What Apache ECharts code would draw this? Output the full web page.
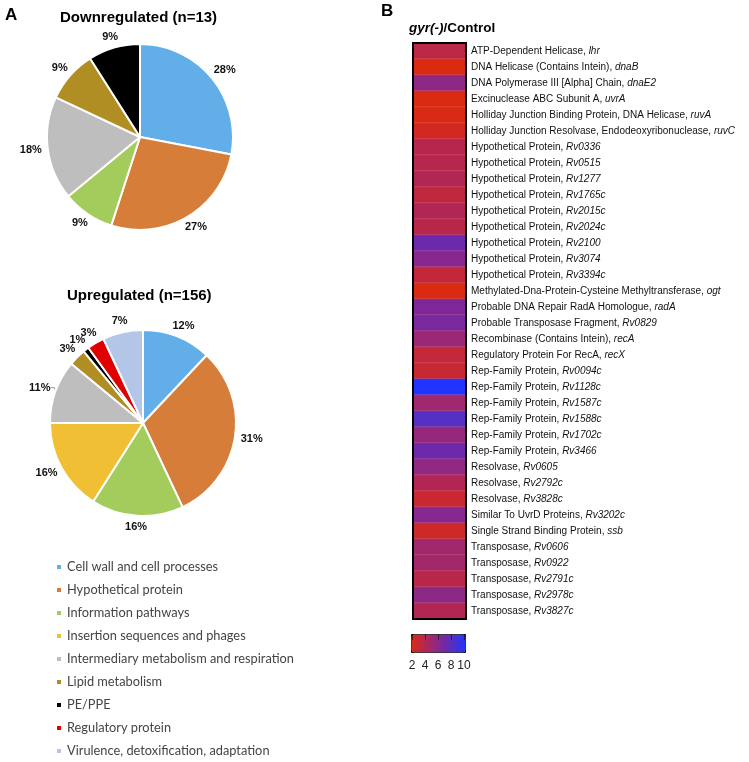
<!DOCTYPE html>
<html>
<head>
<meta charset="utf-8">
<script src="https://cdn.jsdelivr.net/npm/echarts@6/dist/echarts.min.js"></script>
<style>html,body{margin:0;padding:0;background:#fff;}#c{width:749px;height:762px;}</style>
</head>
<body>
<div id="c"></div>
<script>
// ---------- Data ----------
const categories = [
  'Cell wall and cell processes',
  'Hypothetical protein',
  'Information pathways',
  'Insertion sequences and phages',
  'Intermediary metabolism and respiration',
  'Lipid metabolism',
  'PE/PPE',
  'Regulatory protein',
  'Virulence, detoxification, adaptation'
];
const categoryColors = ['#62AEE9','#D67D3A','#A3CC5C','#F0BF33','#BEBEBE','#B08E24','#000000','#E00000','#B4C6E7'];
const downValues = [28, 27, 9, 0, 18, 9, 9, 0, 0];
const upValues   = [12, 31, 16, 16, 11, 3, 1, 3, 7];

const geneDescriptions = [
  'ATP-Dependent Helicase','DNA Helicase (Contains Intein)','DNA Polymerase III [Alpha] Chain',
  'Excinuclease ABC Subunit A','Holliday Junction Binding Protein, DNA Helicase',
  'Holliday Junction Resolvase, Endodeoxyribonuclease','Hypothetical Protein','Hypothetical Protein',
  'Hypothetical Protein','Hypothetical Protein','Hypothetical Protein','Hypothetical Protein',
  'Hypothetical Protein','Hypothetical Protein','Hypothetical Protein',
  'Methylated-Dna-Protein-Cysteine Methyltransferase','Probable DNA Repair RadA Homologue',
  'Probable Transposase Fragment','Recombinase (Contains Intein)','Regulatory Protein For RecA',
  'Rep-Family Protein','Rep-Family Protein','Rep-Family Protein','Rep-Family Protein',
  'Rep-Family Protein','Rep-Family Protein','Resolvase','Resolvase','Resolvase',
  'Similar To UvrD Proteins','Single Strand Binding Protein','Transposase','Transposase',
  'Transposase','Transposase','Transposase'
];
const geneIds = [
  'lhr','dnaB','dnaE2','uvrA','ruvA','ruvC','Rv0336','Rv0515','Rv1277','Rv1765c','Rv2015c',
  'Rv2024c','Rv2100','Rv3074','Rv3394c','ogt','radA','Rv0829','recA','recX','Rv0094c',
  'Rv1128c','Rv1587c','Rv1588c','Rv1702c','Rv3466','Rv0605','Rv2792c','Rv3828c','Rv3202c',
  'ssb','Rv0606','Rv0922','Rv2791c','Rv2978c','Rv3827c'
];
const foldChange = [
  3.6, 2.0, 5.7, 2.0, 2.1, 2.5, 3.9, 3.9, 4.1, 3.4, 4.1, 3.8, 7.1, 6.1, 3.3, 2.0, 6.4, 6.6,
  5.2, 3.2, 3.0, 10.0, 4.9, 8.0, 5.4, 7.1, 5.6, 4.1, 2.9, 6.1, 2.7, 4.9, 4.8, 3.8, 5.8, 4.1
];
const heatColumn = ['gyr(-)/Control'];
const scaleTicks = [2, 4, 6, 8, 10];

// ---------- Chart ----------
const FF = 'Liberation Sans, Arial, sans-serif';
const chart = echarts.init(document.getElementById('c'), null, {renderer: 'canvas'});

function pieData(vals) {
  const out = [];
  vals.forEach((v, i) => {
    if (v > 0) out.push({name: categories[i], value: v, itemStyle: {color: categoryColors[i]}});
  });
  return out;
}
const downData = pieData(downValues);
const upData = pieData(upValues);
upData.forEach(d => {
  if (d.name === 'Intermediary metabolism and respiration') {
    d.labelLine = {show: true, length: 4, length2: 4, lineStyle: {color: '#999', width: 1}};
  }
});

// place each percentage label just outside its slice, centred on the slice bisector
function labelPlacer(data, cx, cy, r, gap) {
  const total = data.reduce((s, d) => s + d.value, 0);
  const starts = [];
  let acc = 0;
  data.forEach(d => { starts.push(acc); acc += d.value; });
  return function (p) {
    const i = p.dataIndex;
    const a = (starts[i] + data[i].value / 2) / total * Math.PI * 2;
    const dx = Math.sin(a), dy = -Math.cos(a);
    const w = p.labelRect.width, h = p.labelRect.height;
    return {
      x: cx + dx * (r + gap) + dx * w / 2,
      y: cy + dy * (r + gap) + dy * h / 2,
      align: 'center', verticalAlign: 'middle'
    };
  };
}

const rowLabels = geneIds.map((id, i) => geneDescriptions[i] + '||' + id);
const heatData = foldChange.map((v, i) => [0, i, v]);

const R = 93;
const downCenter = [140, 137];
const upCenter = [143, 423];

const pieCommon = {
  type: 'pie',
  radius: R,
  startAngle: 90,
  clockwise: true,
  avoidLabelOverlap: false,
  animation: false,
  silent: true,
  itemStyle: {borderColor: '#fff', borderWidth: 2},
  label: {show: true, position: 'outside', formatter: '{c}%', color: '#111',
          fontFamily: FF, fontWeight: 'bold', fontSize: 11},
  labelLine: {show: false, length: 4, length2: 4},
  emphasis: {disabled: true}
};

const titleStyle = {fontFamily: FF, fontWeight: 'bold', color: '#000'};

const option = {
  backgroundColor: '#fff',
  animation: false,
  title: [
    {text: 'A', left: 5, top: 7, padding: 0, textStyle: Object.assign({fontSize: 17}, titleStyle)},
    {text: 'Downregulated (n=13)', left: 60, top: 10, padding: 0, textStyle: Object.assign({fontSize: 15}, titleStyle)},
    {text: 'Upregulated (n=156)', left: 67, top: 288, padding: 0, textStyle: Object.assign({fontSize: 15}, titleStyle)},
    {text: 'B', left: 381, top: 3, padding: 0, textStyle: Object.assign({fontSize: 17}, titleStyle)},
    {text: '{i|gyr(-)}{b|/Control}', left: 409, top: 21, padding: 0,
     textStyle: {rich: {
       i: {fontFamily: FF, fontWeight: 'bold', fontStyle: 'italic', fontSize: 13.5, color: '#000'},
       b: {fontFamily: FF, fontWeight: 'bold', fontSize: 13.5, color: '#000'}
     }}}
  ],
  legend: {
    orient: 'vertical', left: 55, top: 560, height: 215, padding: 0,
    data: categories, selectedMode: false,
    icon: 'rect', itemWidth: 6, itemHeight: 6, itemGap: 9,
    textStyle: {fontFamily: 'Lato, sans-serif', fontSize: 12.8, color: '#444', lineHeight: 14}
  },
  grid: [
    {left: 413, top: 43, width: 53, height: 576, show: true, borderColor: '#000', borderWidth: 2, z: 10},
    {left: 412, top: 634, width: 52, height: 19, show: false}
  ],
  xAxis: [
    {gridIndex: 0, type: 'category', data: heatColumn, show: false},
    {gridIndex: 1, type: 'value', min: scaleTicks[0], max: scaleTicks[scaleTicks.length - 1], interval: 2, position: 'bottom',
     axisLine: {show: false}, axisTick: {show: false}, splitLine: {show: false},
     axisLabel: {fontFamily: FF, fontSize: 12, color: '#222', margin: 7}},
    {gridIndex: 1, type: 'value', min: scaleTicks[0], max: scaleTicks[scaleTicks.length - 1], interval: 2, position: 'top', z: 20,
     axisLine: {show: false}, axisLabel: {show: false}, splitLine: {show: false},
     axisTick: {show: true, inside: true, length: 6, lineStyle: {color: 'rgba(0,0,0,0.55)', width: 1}}}
  ],
  yAxis: [
    {gridIndex: 0, type: 'category', data: rowLabels, inverse: true, position: 'right',
     axisLine: {show: false}, axisTick: {show: false}, splitLine: {show: false},
     axisLabel: {
       margin: 5, interval: 0, fontFamily: FF, fontSize: 10, color: '#111',
       formatter: function (v) {
         const p = v.split('||');
         return p[0] + ', {i|' + p[1] + '}';
       },
       rich: {i: {fontFamily: FF, fontSize: 10, fontStyle: 'italic', color: '#111'}}
     }},
    {gridIndex: 1, type: 'value', show: false, min: 0, max: 1}
  ],
  visualMap: {
    type: 'continuous', min: 2, max: 10, seriesIndex: 2, z: 1,
    orient: 'horizontal', left: 411, top: 634,
    itemWidth: 18, itemHeight: 54, calculable: false, realtime: false,
    padding: 0, borderWidth: 1, borderColor: '#000', text: null,
    hoverLink: false,
    inRange: {color: ['#DA2A10','#C82834','#B42650','#9E2870','#88288C','#7028A8','#5630C4','#3A32E0','#2034FF']}
  },
  series: [
    Object.assign({}, pieCommon, {name: 'Downregulated', center: downCenter, data: downData,
      labelLayout: labelPlacer(downData, downCenter[0], downCenter[1], R, 6)}),
    Object.assign({}, pieCommon, {name: 'Upregulated', center: upCenter, data: upData,
      labelLayout: labelPlacer(upData, upCenter[0], upCenter[1], R, 6)}),
    {
      type: 'heatmap', xAxisIndex: 0, yAxisIndex: 0, data: heatData, silent: true,
      itemStyle: {borderColor: 'rgba(255,170,170,0.35)', borderWidth: 0.6},
      emphasis: {disabled: true}
    }
  ]
};
chart.setOption(option);
</script>
</body>
</html>
